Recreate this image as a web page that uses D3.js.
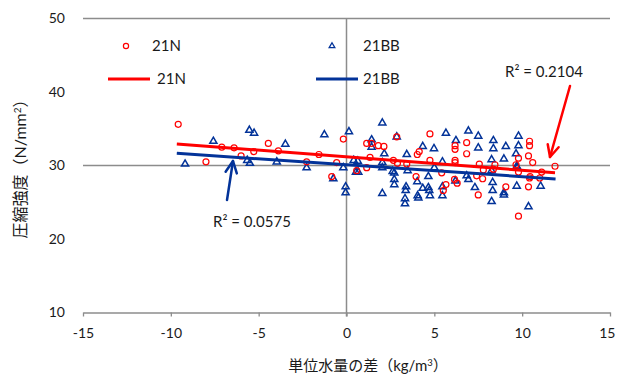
<!DOCTYPE html>
<html><head><meta charset="utf-8">
<script src="https://cdn.jsdelivr.net/npm/d3@7"></script>
<style>
html,body{margin:0;padding:0;background:#fff;}
svg text{font-family:Lato,"Noto Sans CJK JP",sans-serif;}
</style></head>
<body><svg id="c" width="617" height="380"></svg>
<script>
// ---- data ----
const seriesNames = ["21N", "21BB"];
const xTicks = [-15, -10, -5, 0, 5, 10, 15];
const yTicks = [10, 20, 30, 40, 50];
const points21N = [
 [-9.58,35.6],[-8.0,30.5],[-7.1,32.5],[-6.4,32.4],[-6.0,31.3],[-5.28,31.9],[-4.45,33.0],[-3.88,32.0],
 [-2.27,30.5],[-1.57,31.5],[-0.84,28.5],[-0.56,30.4],[-0.18,33.6],[0.58,29.3],[1.15,29.7],[1.34,31.1],
 [1.15,33.0],[1.43,33.0],[1.81,32.7],[2.13,32.6],[2.67,30.7],[2.86,33.9],[2.9,30.3],[3.43,30.2],
 [3.96,28.5],[4.03,31.5],[4.14,31.9],[4.75,34.3],[4.75,30.7],[5.42,29.0],[5.51,26.6],[5.66,27.4],
 [6.18,32.7],[6.18,32.2],[6.18,30.7],[6.18,30.4],[6.15,28.1],[6.3,27.6],[6.84,33.1],[6.84,31.6],
 [7.41,28.6],[7.5,26.0],[7.56,30.2],[7.79,29.4],[7.75,28.2],[8.45,30.1],[8.36,29.5],[9.07,27.1],
 [9.79,31.0],[9.65,30.1],[9.79,29.1],[9.79,23.1],[10.42,33.3],[10.42,32.7],[10.36,31.3],[10.6,30.4],
 [10.45,28.5],[10.42,28.3],[10.36,27.1],[11.0,28.3],[11.11,29.1],[11.87,29.9]
];
const points21BB = [
 [-9.19,30.2],[-7.58,33.3],[-5.53,34.8],[-5.26,34.4],[-5.65,30.7],[-5.5,30.3],[-3.48,32.9],[-3.97,30.5],
 [-2.27,29.7],[-1.26,34.2],[-0.75,28.2],[-0.18,29.7],[0.14,34.6],[-0.05,27.1],[-0.05,26.3],[0.41,30.7],
 [0.64,30.6],[0.54,29.1],[0.67,29.1],[1.43,33.5],[1.43,32.5],[2.04,35.8],[2.15,31.6],[2.04,30.4],
 [2.04,29.7],[2.04,26.2],[2.63,29.2],[2.72,29.0],[2.72,28.1],[2.72,27.4],[2.86,33.9],[3.43,31.5],
 [3.48,29.3],[3.39,27.1],[3.37,26.6],[3.33,25.5],[3.33,24.8],[4.03,27.8],[4.05,25.9],[4.09,25.6],
 [4.34,32.6],[4.66,28.5],[4.34,26.9],[4.66,27.0],[4.71,26.6],[4.75,25.9],[4.98,32.3],[5.0,29.7],
 [5.46,27.1],[5.46,25.9],[5.46,30.5],[5.66,34.4],[6.23,33.4],[6.2,27.9],[6.94,34.7],[6.84,28.6],
 [6.94,28.1],[7.31,27.0],[7.5,34.0],[7.5,32.4],[8.36,33.4],[8.36,32.3],[8.26,30.8],[8.26,29.3],
 [8.32,27.7],[8.32,26.6],[8.26,25.1],[9.07,32.6],[8.96,30.9],[8.96,26.3],[8.96,26.0],[9.79,34.0],
 [9.79,32.7],[9.65,31.6],[9.69,29.9],[9.72,29.7],[9.69,27.2],[10.36,24.4],[11.05,27.2]
];
// linear trend lines (intercept, slope, x range)
const trend21N = {a: 31.17, b: -0.182, x0: -9.66, x1: 11.87};
const trend21BB = {a: 30.10, b: -0.162, x0: -9.66, x1: 11.9};
const r2Labels = ["R\u00b2 = 0.2104", "R\u00b2 = 0.0575"];

// ---- drawing ----
const svg = d3.select("#c");
const red = "#ff0000", blue = "#033399", grid = "#8c8c8c", ink = "#1a1a1a";
const x = d3.scaleLinear().domain([-15, 15]).range([83, 610]);
const y = d3.scaleLinear().domain([10, 50]).range([312.5, 18.5]);

// gridlines at 50 and 30
svg.append("g").selectAll("line").data([50, 30]).join("line")
  .attr("x1", x(-15)).attr("x2", x(15)).attr("y1", d => y(d)).attr("y2", d => y(d))
  .attr("stroke", grid).attr("stroke-width", 1.3);

// bottom axis
const xa = svg.append("g").attr("transform", `translate(0,${y(10)})`)
  .call(d3.axisBottom(x).tickValues(xTicks).tickSize(4).tickSizeOuter(0).tickFormat(d3.format("d")));
xa.select(".domain").attr("stroke", grid).attr("stroke-width", 1.5);
xa.selectAll(".tick line").attr("stroke", grid).attr("stroke-width", 1.3);
xa.selectAll(".tick text").attr("font-size", 14).attr("fill", ink).attr("dy", "1.3em")
  .text(d => d < 0 ? "-" + Math.abs(d) : d)
  .attr("text-anchor", d => d === 15 ? "end" : "middle")
  .attr("x", d => d === 15 ? 5 : 0);

// vertical axis at x=0
svg.append("line").attr("x1", x(0)).attr("x2", x(0)).attr("y1", y(50)).attr("y2", y(10) + 4)
  .attr("stroke", grid).attr("stroke-width", 1.5);

// y tick labels
svg.append("g").selectAll("text").data(yTicks).join("text")
  .attr("x", 65).attr("y", d => y(d)).attr("dy", "0.35em").attr("text-anchor", "end")
  .attr("font-size", 14).attr("fill", ink).text(d => d);

// trend lines
function trendLine(t, color) {
  svg.append("line")
    .attr("x1", x(t.x0)).attr("y1", y(t.a + t.b * t.x0))
    .attr("x2", x(t.x1)).attr("y2", y(t.a + t.b * t.x1))
    .attr("stroke", color).attr("stroke-width", 3);
}

// markers
const tri = d3.symbol().type(d3.symbolTriangle).size(22);
svg.append("g").selectAll("path").data(points21BB).join("path")
  .attr("d", tri).attr("transform", d => `translate(${x(d[0])},${y(d[1])})`)
  .attr("fill", "none").attr("stroke", blue).attr("stroke-width", 1.5);
svg.append("g").selectAll("circle").data(points21N).join("circle")
  .attr("cx", d => x(d[0])).attr("cy", d => y(d[1])).attr("r", 3)
  .attr("fill", "none").attr("stroke", red).attr("stroke-width", 1.2);
trendLine(trend21N, red);
trendLine(trend21BB, blue);

// legend
const lg = svg.append("g");
const fs = 15;
lg.append("circle").attr("cx", 126).attr("cy", 46).attr("r", 2.6).attr("fill", "none").attr("stroke", red).attr("stroke-width", 1.2);
lg.append("text").attr("x", 152).attr("y", 46).attr("dy", "0.35em").attr("font-size", fs).attr("fill", ink).text(seriesNames[0]);
lg.append("path").attr("d", d3.symbol().type(d3.symbolTriangle).size(14))
  .attr("transform", "translate(332,46)").attr("fill", "none").attr("stroke", blue).attr("stroke-width", 1.3);
lg.append("text").attr("x", 363).attr("y", 46).attr("dy", "0.35em").attr("font-size", fs).attr("fill", ink).text(seriesNames[1]);
lg.append("line").attr("x1", 108).attr("x2", 150).attr("y1", 79).attr("y2", 79).attr("stroke", red).attr("stroke-width", 3);
lg.append("text").attr("x", 157).attr("y", 79).attr("dy", "0.35em").attr("font-size", fs).attr("fill", ink).text(seriesNames[0]);
lg.append("line").attr("x1", 316).attr("x2", 358).attr("y1", 79).attr("y2", 79).attr("stroke", blue).attr("stroke-width", 3);
lg.append("text").attr("x", 363).attr("y", 79).attr("dy", "0.35em").attr("font-size", fs).attr("fill", ink).text(seriesNames[1]);

// R² annotations with arrows
svg.append("text").attr("x", 505).attr("y", 72).attr("dy", "0.35em").attr("font-size", 15).attr("fill", ink).text(r2Labels[0]);
svg.append("text").attr("x", 213).attr("y", 222).attr("dy", "0.35em").attr("font-size", 15).attr("fill", ink).text(r2Labels[1]);
function arrow(x1, y1, x2, y2, color) {
  const g = svg.append("g").attr("stroke", color).attr("stroke-width", 2.5).attr("fill", "none")
    .attr("stroke-linecap", "round").attr("stroke-linejoin", "round");
  g.append("line").attr("x1", x1).attr("y1", y1).attr("x2", x2).attr("y2", y2);
  const ang = Math.atan2(y2 - y1, x2 - x1), L = 13, w = 0.45;
  const p = a => [x2 - L * Math.cos(a), y2 - L * Math.sin(a)];
  const pa = p(ang - w), pb = p(ang + w);
  g.append("path").attr("d", `M${pa[0]},${pa[1]}L${x2},${y2}L${pb[0]},${pb[1]}`);
}
arrow(570, 86, 550, 157, red);
arrow(227, 200, 233, 161, blue);

// axis titles
svg.append("text").attr("x", 368).attr("y", 371).attr("text-anchor", "middle").attr("font-size", 15).attr("fill", ink)
  .html('単位水量の差（kg/m<tspan dy="-5" font-size="9.5">3</tspan><tspan dy="5">）</tspan>');
svg.append("text").attr("transform", "translate(26,165) rotate(-90)").attr("text-anchor", "middle").attr("font-size", 16).attr("fill", ink)
  .html('圧縮強度（N/mm<tspan dy="-5" font-size="10">2</tspan><tspan dy="5">）</tspan>');
</script></body></html>
